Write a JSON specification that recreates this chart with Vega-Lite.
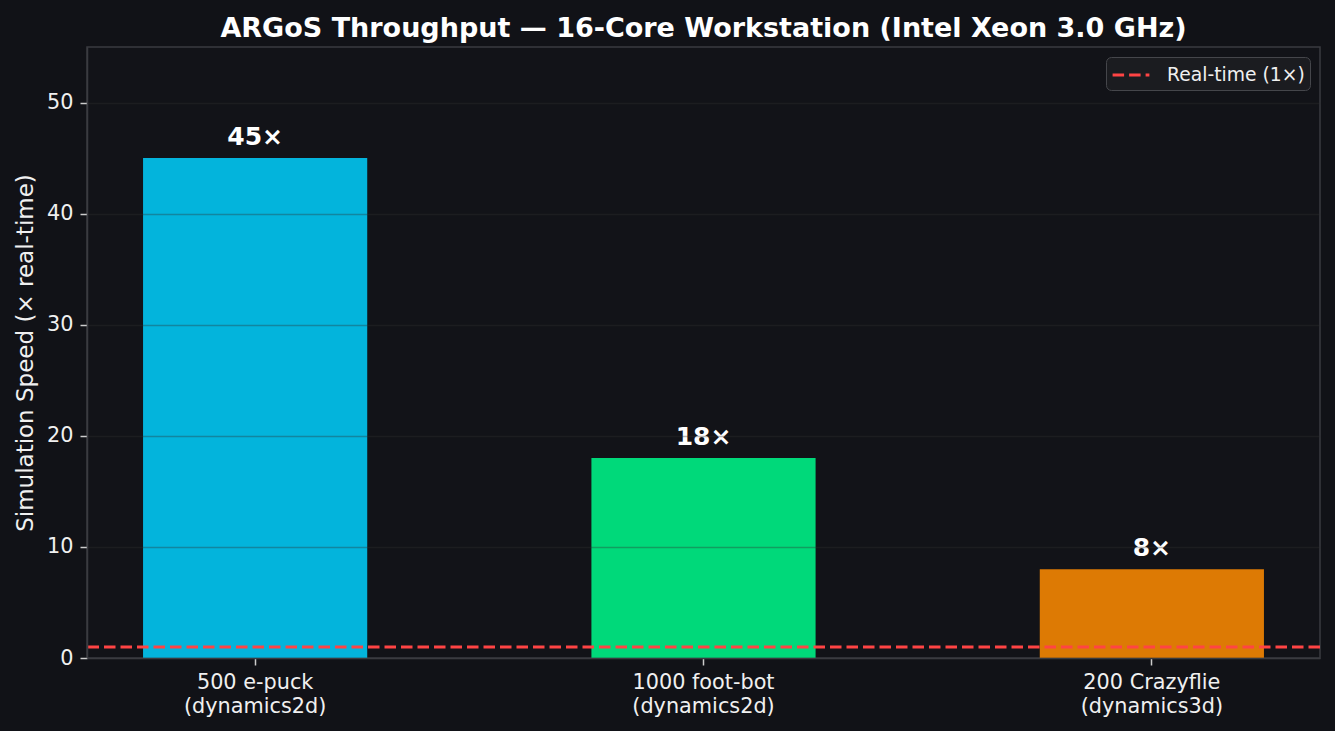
{
  "$schema": "https://vega.github.io/schema/vega-lite/v6.json",
  "autosize": {"type": "none"},
  "padding": {"left": 87, "top": 47, "right": 15, "bottom": 73},
  "width": 1233,
  "height": 611,
  "background": "#111217",
  "config": {
    "font": "DejaVu Sans",
    "view": {"fill": "#121318", "stroke": "#3a3b40", "strokeWidth": 1.5}
  },
  "title": {
    "text": "ARGoS Throughput — 16-Core Workstation (Intel Xeon 3.0 GHz)",
    "fontSize": 27,
    "fontWeight": "bold",
    "color": "#ffffff",
    "anchor": "middle",
    "offset": 4
  },
  "data": {
    "values": [
      {"config": "500 e-puck|(dynamics2d)", "speed": 45, "lab": "45×"},
      {"config": "1000 foot-bot|(dynamics2d)", "speed": 18, "lab": "18×"},
      {"config": "200 Crazyflie|(dynamics3d)", "speed": 8, "lab": "8×"}
    ]
  },
  "encoding": {
    "x": {
      "field": "config",
      "type": "nominal",
      "sort": null,
      "scale": {"paddingInner": 0.5, "paddingOuter": 0.125},
      "axis": {
        "title": null,
        "labelAngle": 0,
        "labelExpr": "split(datum.label, '|')",
        "labelFontSize": 20.8,
        "labelColor": "#f0f0f0",
        "labelLineHeight": 24,
        "labelPadding": 7,
        "tickSize": 7,
        "tickColor": "#cccccc",
        "tickWidth": 1.5,
        "domainColor": "#3a3b40",
        "domainWidth": 1.5,
        "grid": false,
        "zindex": 1
      }
    }
  },
  "layer": [
    {
      "mark": {"type": "bar"},
      "encoding": {
        "y": {
          "field": "speed",
          "type": "quantitative",
          "scale": {"domain": [0, 55], "nice": false},
          "axis": {
            "title": "Simulation Speed (× real-time)",
            "titleFontSize": 23,
            "titleFontWeight": "normal",
            "titleColor": "#f0f0f0",
            "titlePadding": 9,
            "values": [0, 10, 20, 30, 40, 50],
            "labelFontSize": 20.8,
            "labelColor": "#f0f0f0",
            "labelPadding": 7,
            "tickSize": 7,
            "tickColor": "#cccccc",
            "tickWidth": 1.5,
            "domainColor": "#3a3b40",
            "domainWidth": 1.5,
            "grid": true,
            "gridColor": "#303030",
            "gridOpacity": 0.35,
            "gridWidth": 1.5,
            "zindex": 1
          }
        },
        "fill": {
          "field": "config",
          "type": "nominal",
          "scale": {
            "domain": ["500 e-puck|(dynamics2d)", "1000 foot-bot|(dynamics2d)", "200 Crazyflie|(dynamics3d)"],
            "range": ["#03b4dc", "#00d97a", "#dd7a04"]
          },
          "legend": null
        }
      }
    },
    {
      "mark": {"type": "text", "fontSize": 25, "fontWeight": "bold", "color": "#ffffff", "baseline": "alphabetic", "dy": -13},
      "encoding": {
        "y": {"field": "speed", "type": "quantitative"},
        "text": {"field": "lab"}
      }
    },
    {
      "data": {"values": [{"level": 1, "series": "Real-time (1×)"}]},
      "mark": {"type": "rule", "strokeWidth": 3, "strokeDash": [11.5, 5]},
      "encoding": {
        "x": null,
        "y": {"field": "level", "type": "quantitative"},
        "stroke": {
          "field": "series",
          "type": "nominal",
          "scale": {"range": ["#ff4444"]},
          "legend": {
            "title": null,
            "orient": "top-right",
            "offset": 10,
            "fillColor": "#1b1c20",
            "strokeColor": "#45464b",
            "cornerRadius": 5,
            "padding": 5,
            "labelFontSize": 18.75,
            "labelColor": "#f0f0f0",
            "labelOffset": 23,
            "symbolType": "M-1.6,0H1.6",
            "symbolSize": 529,
            "symbolOffset": 7,
            "symbolStrokeWidth": 3,
            "symbolDash": [11.5, 5]
          }
        }
      }
    }
  ]
}
